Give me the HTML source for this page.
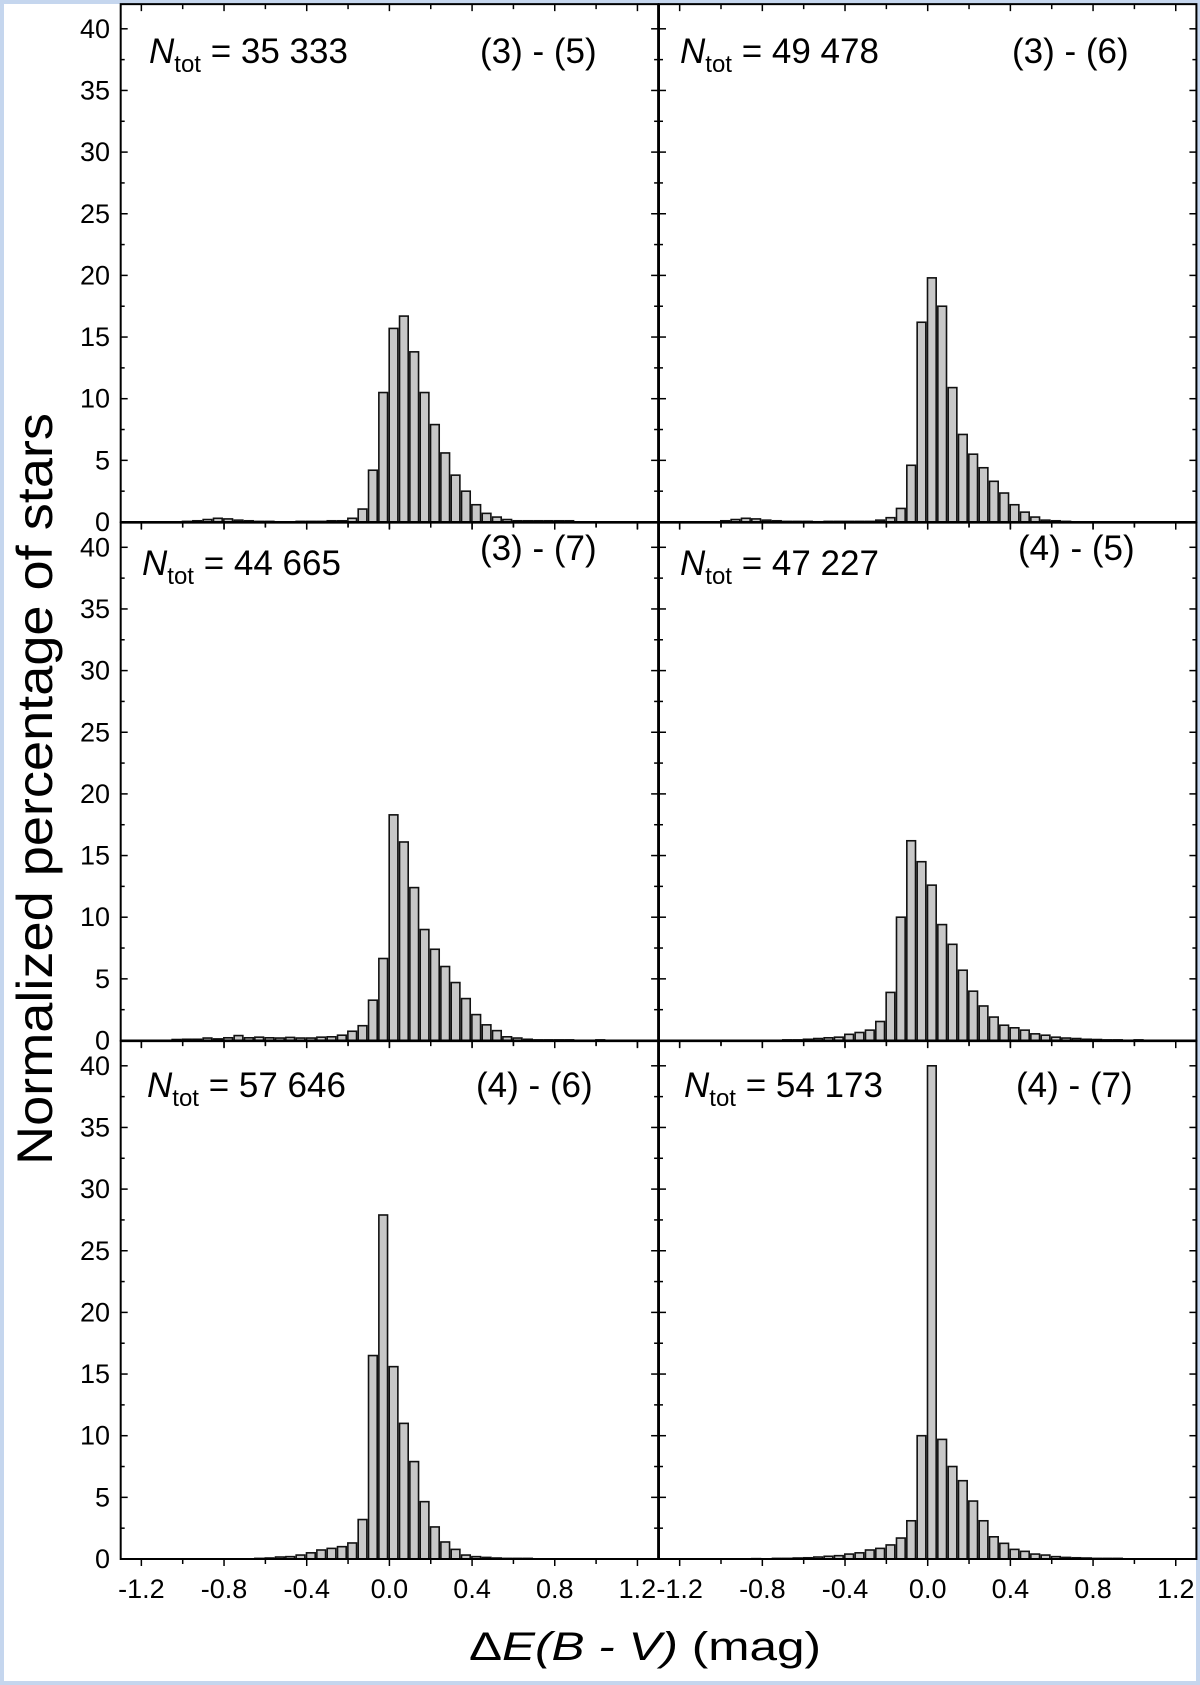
<!DOCTYPE html>
<html><head><meta charset="utf-8"><style>
html,body{margin:0;padding:0;background:#fff}
svg{display:block;font-family:"Liberation Sans",Arial,sans-serif}
</style></head><body>
<svg id="fig" width="1200" height="1685" viewBox="0 0 1200 1685" xmlns="http://www.w3.org/2000/svg">
<rect x="2" y="2" width="1196" height="1681" fill="#fff" stroke="#c5d6ee" stroke-width="4"/>
<g id="plots"></g>
<text transform="translate(52,789) rotate(-90)" text-anchor="middle" font-size="50" textLength="752" lengthAdjust="spacingAndGlyphs">Normalized percentage of stars</text>
<text x="469" y="1660" font-size="40" textLength="352" lengthAdjust="spacingAndGlyphs">Δ<tspan font-style="italic">E(B - V)</tspan>  (mag)</text>
</svg>
<script>
const binCenters0 = -1.03; // first bin center
const binStep = 0.05;
const valsA = [0,0.05,0.1,0.2,0.3,0.25,0.15,0.1,0.05,0.05,0,0,0.05,0.05,0.05,0.1,0.1,0.3,1.05,4.2,10.5,15.7,16.7,13.8,10.5,7.9,5.6,3.8,2.5,1.4,0.7,0.4,0.2,0.1,0.1,0.1,0.1,0.1,0.1,0,0,0,0,0,0];
const valsB = [0,0.1,0.2,0.3,0.25,0.15,0.1,0.05,0.05,0.05,0.02,0.05,0.05,0.05,0.05,0.05,0.15,0.35,1.1,4.6,16.2,19.8,17.5,10.9,7.1,5.5,4.4,3.3,2.35,1.4,0.8,0.4,0.15,0.1,0.05,0,0,0,0,0,0,0,0,0,0];
const valsC = [0.08,0.1,0.1,0.2,0.13,0.22,0.4,0.22,0.27,0.22,0.2,0.25,0.2,0.2,0.27,0.3,0.43,0.75,1.2,3.27,6.65,18.3,16.1,12.4,9.0,7.4,6.0,4.7,3.4,2.1,1.27,0.8,0.3,0.2,0.1,0.05,0.05,0.05,0.05,0,0,0.05,0,0,0];
const valsD = [0,0,0,0,0,0,0,0.05,0.05,0.1,0.16,0.22,0.27,0.5,0.65,0.84,1.54,3.9,10.0,16.2,14.5,12.6,9.4,7.8,5.7,4.0,2.8,1.9,1.24,1.03,0.84,0.54,0.43,0.27,0.2,0.16,0.1,0.08,0.05,0.05,0,0.05,0,0,0];
const valsE = [0,0,0,0,0,0,0,0,0.05,0.08,0.16,0.19,0.32,0.5,0.73,0.86,1.0,1.3,3.2,16.5,27.9,15.6,11.0,7.9,4.65,2.6,1.38,0.78,0.32,0.19,0.13,0.08,0.05,0.05,0.05,0,0,0,0,0,0,0,0,0,0];
const valsF = [0,0,0,0,0.03,0,0.05,0.05,0.08,0.1,0.16,0.22,0.27,0.4,0.5,0.73,0.86,1.14,1.7,3.1,10.0,40.0,9.7,7.5,6.35,4.7,3.1,1.8,1.27,0.78,0.62,0.4,0.32,0.19,0.13,0.1,0.08,0.05,0.05,0.05,0,0,0,0,0];
const totals = ["35 333","49 478","44 665","47 227","57 646","54 173"];
const pairLabels = ["(3) - (5)","(3) - (6)","(3) - (7)","(4) - (5)","(4) - (6)","(4) - (7)"];
const yTicks = [0,5,10,15,20,25,30,35,40];
const xTickLabels = ["-1.2","-0.8","-0.4","0.0","0.4","0.8","1.2"];
const xTickVals = [-1.2,-0.8,-0.4,0,0.4,0.8,1.2];
const allVals = [valsA,valsB,valsC,valsD,valsE,valsF];

const NS = "http://www.w3.org/2000/svg";
const root = document.getElementById('plots');
function mk(tag, attrs, parent){const e=document.createElementNS(NS,tag);for(const k in attrs)e.setAttribute(k,attrs[k]);(parent||root).appendChild(e);return e;}
const PXU = 206.7, PYU = 12.33, YMAX = 42;
const colX0 = [389.4, 927.7];
const rowZero = [522, 1040.5, 1559];
const ntotPos = [[149,63,480,63],[680,63,1012,63],[142,575,480,560],[680,575,1018,560],[147,1097,476,1097],[684,1097,1016,1097]];

for(let p=0;p<6;p++){
  const r=Math.floor(p/2), c=p%2;
  const x0=colX0[c], y0=rowZero[r];
  const sx=v=>x0+v*PXU, sy=v=>y0-v*PYU;
  const g=mk('g',{});
  
  
  const vals=allVals[p];
  for(let i=0;i<vals.length;i++){
    if(vals[i]<=0) continue;
    const cx=binCenters0+i*binStep;
    const b=mk('rect',{x:sx(cx-0.021),y:sy(vals[i]),width:0.042*PXU,height:vals[i]*PYU,fill:'#c8c8c8',stroke:'#111','stroke-width':1.6},g);
    
    
  }
  const L=sx(-1.3), R=sx(1.3), T=sy(YMAX);
  for(let v=0;v<=40;v+=2.5){
    const len=(v%5===0)?7:4;
    mk('line',{x1:L,x2:L+len,y1:sy(v),y2:sy(v),stroke:'#000','stroke-width':1.5},g);
    mk('line',{x1:R,x2:R-len,y1:sy(v),y2:sy(v),stroke:'#000','stroke-width':1.5},g);
  }
  for(let k=-6;k<=6;k++){
    const v=k*0.2, len=(k%2===0)?7:5;
    mk('line',{x1:sx(v),x2:sx(v),y1:y0,y2:y0+len,stroke:'#000','stroke-width':1.5},g);
    mk('line',{x1:sx(v),x2:sx(v),y1:T,y2:T+len,stroke:'#000','stroke-width':1.5},g);
  }
  const fr=mk('rect',{x:L,y:T,width:R-L,height:y0-T,fill:'none',stroke:'#000','stroke-width':2},g);
  
  
  if(c===0){
    for(const v of yTicks){
      const t=mk('text',{x:110,y:sy(v)+9,'text-anchor':'end','font-size':27},g);
      t.textContent=v;
      
      
    }
  }
  if(r===2){
    for(let j=0;j<xTickVals.length;j++){
      const t=mk('text',{x:sx(xTickVals[j]),y:1598,'text-anchor':'middle','font-size':27},g);
      t.textContent=xTickLabels[j];
      
      
    }
  }
  const pos=ntotPos[p];
  const nt=mk('text',{x:pos[0],y:pos[1],'font-size':35},g);
  
  
  nt.innerHTML='<tspan font-style="italic">N</tspan><tspan font-size="24" dy="9">tot</tspan><tspan dy="-9"> = '+totals[p]+'</tspan>';
  const pl=mk('text',{x:pos[2],y:pos[3],'font-size':35},g);
  pl.textContent=pairLabels[p];
  
  
}
</script>
</body></html>
